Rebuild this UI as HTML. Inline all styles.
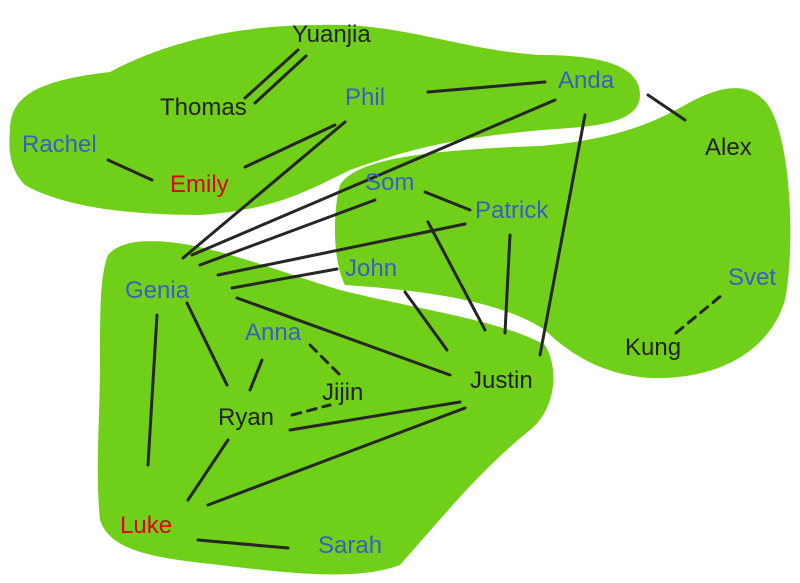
<!DOCTYPE html>
<html><head><meta charset="utf-8"><style>
body{margin:0;background:#fff}
svg{display:block}
text{font-family:"Liberation Sans",sans-serif;font-size:24px;}
.b{fill:#3a5fbf}.d{fill:#222}.r{fill:#e00010}
line{stroke:#262626;stroke-width:3;stroke-linecap:round}
.ds{stroke-dasharray:9 7}
</style></head><body>
<svg width="800" height="583" viewBox="0 0 800 583">
<g fill="#70cf18">
<path d="M10,130 C10,95 40,80 110,72 C160,45 230,25 320,25 C400,22 460,50 540,55 C600,55 640,65 640,95 C640,118 610,125 570,128 C470,135 420,145 350,170 C300,195 270,210 200,215 C120,215 60,205 25,185 C10,170 8,150 10,130Z"/>
<path d="M340,185 C355,160 420,150 540,146 C610,140 650,125 685,105 C720,85 750,80 768,105 C792,140 795,250 785,300 C770,350 720,380 650,378 C600,375 565,350 545,330 C500,300 420,290 345,285 C332,260 333,210 340,185Z"/>
<path d="M108,255 C120,240 150,238 190,245 C240,255 290,275 340,290 C420,310 500,320 545,345 C560,370 555,410 530,430 C480,470 440,520 400,565 C360,580 300,575 220,565 C150,558 110,550 100,520 C95,470 100,420 100,360 C100,310 100,275 108,255Z"/>
</g>
<g>
<line x1="245" y1="98" x2="298" y2="50"/><line x1="255" y1="103" x2="306" y2="56"/>
<line x1="245" y1="167" x2="335" y2="125"/>
<line x1="108" y1="160" x2="152" y2="180"/>
<line x1="428" y1="92" x2="545" y2="82"/>
<line x1="648" y1="95" x2="685" y2="120"/>
<line x1="585" y1="115" x2="540" y2="355"/>
<line x1="555" y1="100" x2="192" y2="255"/>
<line x1="345" y1="122" x2="183" y2="258"/>
<line x1="375" y1="200" x2="200" y2="265"/>
<line x1="465" y1="224" x2="218" y2="275"/>
<line x1="337" y1="269" x2="232" y2="288"/>
<line x1="425" y1="192" x2="470" y2="210"/>
<line x1="428" y1="222" x2="485" y2="330"/>
<line x1="510" y1="235" x2="505" y2="333"/>
<line x1="405" y1="292" x2="447" y2="350"/>
<line x1="237" y1="298" x2="450" y2="375"/>
<line x1="157" y1="315" x2="148" y2="465"/>
<line x1="187" y1="303" x2="227" y2="385"/>
<line x1="262" y1="360" x2="250" y2="390"/>
<line class="ds" x1="310" y1="345" x2="340" y2="375"/>
<line class="ds" x1="292" y1="415" x2="330" y2="405"/>
<line x1="290" y1="430" x2="460" y2="402"/>
<line x1="208" y1="505" x2="465" y2="408"/>
<line x1="228" y1="440" x2="188" y2="500"/>
<line x1="198" y1="540" x2="288" y2="548"/>
<line class="ds" x1="676" y1="333" x2="722" y2="295"/>
</g>
<g>
<text class="d" x="292" y="42">Yuanjia</text>
<text class="d" x="160" y="115">Thomas</text>
<text class="b" x="345" y="105">Phil</text>
<text class="b" x="558" y="88">Anda</text>
<text class="b" x="22" y="152">Rachel</text>
<text class="r" x="170" y="192">Emily</text>
<text class="d" x="705" y="155">Alex</text>
<text class="b" x="365" y="190">Som</text>
<text class="b" x="475" y="218">Patrick</text>
<text class="b" x="125" y="298">Genia</text>
<text class="b" x="345" y="276">John</text>
<text class="b" x="728" y="285">Svet</text>
<text class="b" x="245" y="340">Anna</text>
<text class="d" x="625" y="355">Kung</text>
<text class="d" x="322" y="400">Jijin</text>
<text class="d" x="470" y="388">Justin</text>
<text class="d" x="218" y="425">Ryan</text>
<text class="r" x="120" y="533">Luke</text>
<text class="b" x="318" y="553">Sarah</text>
</g>
</svg>
</body></html>
